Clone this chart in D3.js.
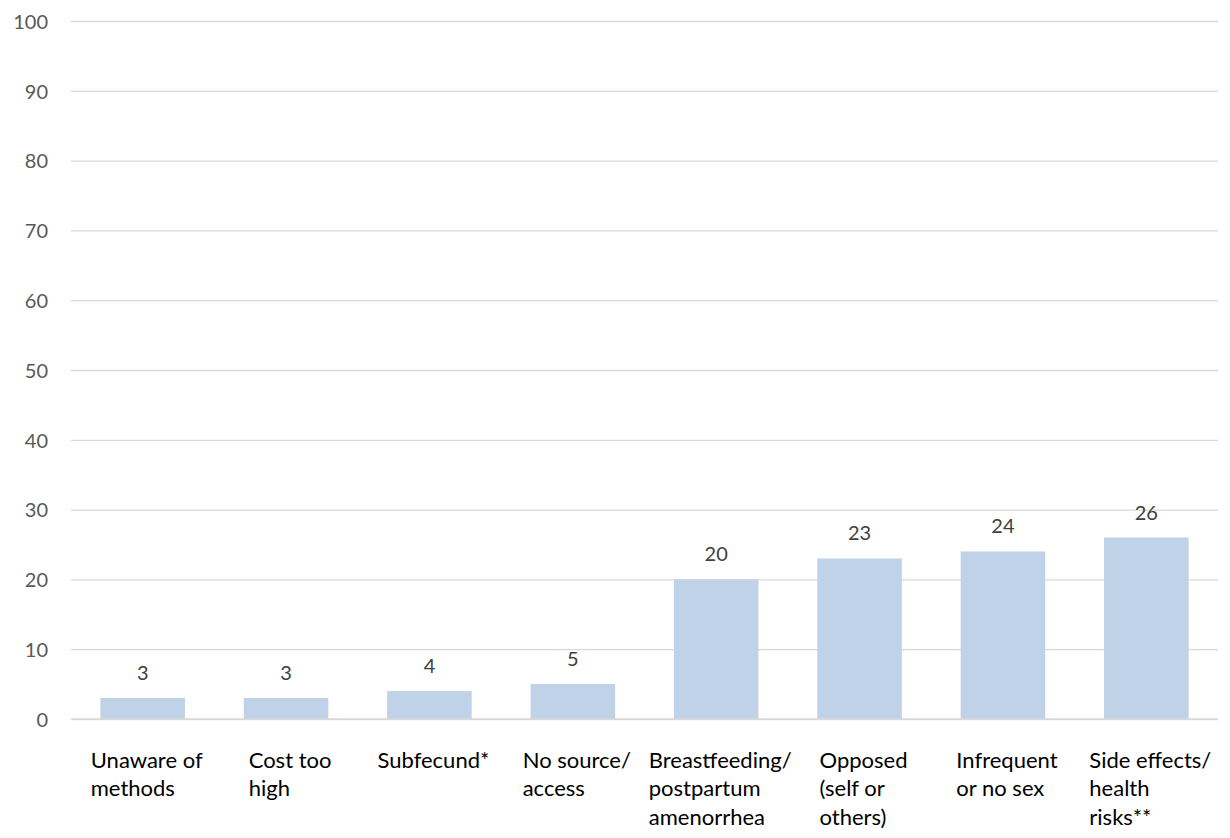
<!DOCTYPE html>
<html>
<head>
<meta charset="utf-8">
<script src="https://cdn.jsdelivr.net/npm/d3@7"></script>
<style>
  html, body { margin: 0; padding: 0; background: #fff; }
  svg { display: block; }
  text { font-family: Lato, "Open Sans", sans-serif; }
</style>
</head>
<body>
<svg id="chart" width="1230" height="838"></svg>
<script>
// Reasons for not using contraception (%)
const categories = [
  ["Unaware of", "methods"],
  ["Cost too", "high"],
  ["Subfecund*"],
  ["No source/", "access"],
  ["Breastfeeding/", "postpartum", "amenorrhea"],
  ["Opposed", "(self or", "others)"],
  ["Infrequent", "or no sex"],
  ["Side effects/", "health", "risks**"]
];
const values = [3, 3, 4, 5, 20, 23, 24, 26];
const yTicks = [0, 10, 20, 30, 40, 50, 60, 70, 80, 90, 100];

const svg = d3.select("#chart");
const margin = { left: 71, right: 12, top: 21, bottom: 119 };
const W = 1230, H = 838;

const x = d3.scaleBand()
  .domain(d3.range(categories.length))
  .range([margin.left, W - margin.right])
  .paddingInner(0.41)
  .paddingOuter(0.205);

const y = d3.scaleLinear()
  .domain([0, 100])
  .range([H - margin.bottom, margin.top]);

// horizontal gridlines + tick labels
const yAxis = d3.axisLeft(y)
  .tickValues(yTicks)
  .tickSize(-(W - margin.right - margin.left))
  .tickPadding(23)
  .tickFormat(d3.format("d"));

const gy = svg.append("g")
  .attr("transform", `translate(${margin.left},0)`)
  .call(yAxis);
gy.select(".domain").remove();
gy.selectAll(".tick line").attr("stroke", "#d9d9d9").attr("stroke-width", 1.3);
gy.selectAll(".tick text")
  .attr("fill", "#595959")
  .style("font-size", "20px")
  .attr("dy", "0.36em");

// bars
svg.append("g").selectAll("rect")
  .data(values)
  .join("rect")
  .attr("x", (d, i) => x(i))
  .attr("y", d => y(d))
  .attr("width", x.bandwidth())
  .attr("height", d => y(0) - y(d))
  .attr("fill", "#bfd2e8");

// redraw the zero line on top of the bars
svg.append("line")
  .attr("x1", margin.left).attr("x2", W - margin.right)
  .attr("y1", y(0)).attr("y2", y(0))
  .attr("stroke", "#d9d9d9").attr("stroke-width", 1.3);

// value labels
svg.append("g").selectAll("text")
  .data(values)
  .join("text")
  .attr("x", (d, i) => x(i) + x.bandwidth() / 2)
  .attr("y", d => y(d) - 18)
  .attr("text-anchor", "middle")
  .attr("fill", "#404040")
  .style("font-size", "20px")
  .text(d => d);

// category labels: wrapped, lines left-aligned, block centred under its bar
const catG = svg.append("g");
categories.forEach((lines, i) => {
  const t = catG.append("text")
    .attr("fill", "#000")
    .style("font-size", "22px");
  lines.forEach((ln, j) => {
    t.append("tspan")
      .attr("y", 768 + j * 28.3)
      .text(ln);
  });
  const maxW = d3.max(t.selectAll("tspan").nodes(), n => n.getComputedTextLength());
  const cx = x(i) + x.bandwidth() / 2;
  t.selectAll("tspan").attr("x", cx - maxW / 2 + 4);
});
</script>
</body>
</html>
